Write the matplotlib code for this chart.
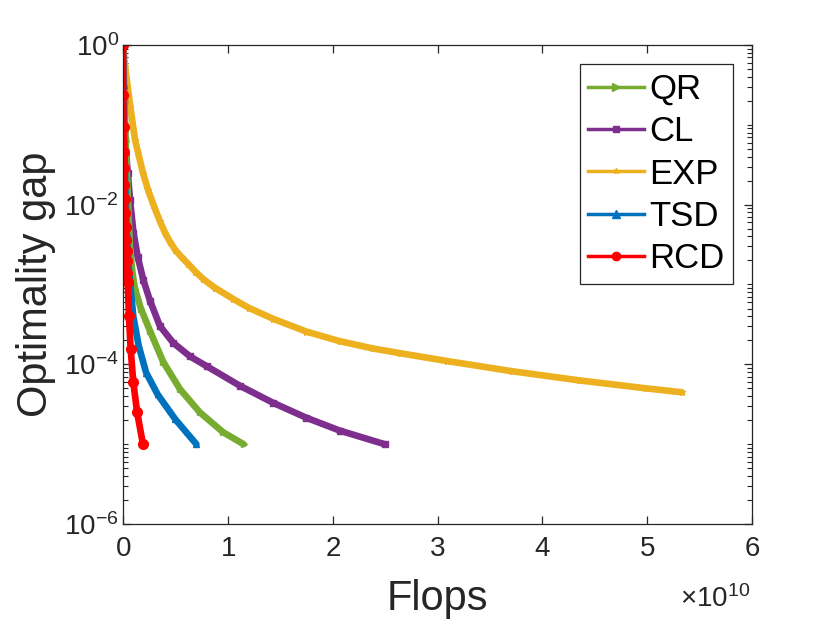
import numpy as np
import matplotlib.pyplot as plt
from matplotlib.lines import Line2D
from matplotlib.ticker import LogLocator, NullFormatter, ScalarFormatter, FixedLocator

plt.rcParams['font.family'] = ['Liberation Sans', 'DejaVu Sans']
plt.rcParams['mathtext.fontset'] = 'custom'
plt.rcParams['mathtext.rm'] = 'Liberation Sans'
plt.rcParams['mathtext.it'] = 'Liberation Sans'

# values (flops in units of 1e10, optimality gap)
exp_x = [0, 0.02, 0.07, 0.115, 0.19, 0.24, 0.29, 0.35, 0.4, 0.45, 0.5, 0.56, 0.62, 0.69, 0.765,
         0.876, 1.05, 1.2, 1.431, 1.75, 2.067, 2.384, 2.64, 3.09, 3.71, 4.35, 4.99, 5.33]
exp_y = [1.0, 0.531, 0.168, 0.0646, 0.0251, 0.0151, 0.01, 6.3e-3, 4.47e-3, 3.39e-3, 2.69e-3,
         2.19e-3, 1.82e-3, 1.45e-3, 1.17e-3, 9.1e-4, 6.6e-4, 5.1e-4, 3.72e-4, 2.57e-4, 1.95e-4,
         1.58e-4, 1.38e-4, 1.10e-4, 8.2e-5, 6.3e-5, 5.0e-5, 4.47e-5]

cl_x = [0, 0.01, 0.02, 0.045, 0.067, 0.1, 0.14, 0.193, 0.257, 0.352, 0.479, 0.638, 0.797,
        1.114, 1.431, 1.75, 2.067, 2.495]
cl_y = [1.0, 0.2, 0.0646, 0.0251, 0.0115, 4.47e-3, 2.24e-3, 1.15e-3, 6.3e-4, 3.02e-4, 1.86e-4,
        1.26e-4, 9.5e-5, 5.4e-5, 3.3e-5, 2.14e-5, 1.48e-5, 1.0e-5]

qr_x = [0, 0.01, 0.025, 0.04, 0.052, 0.067, 0.09, 0.114, 0.17, 0.257, 0.384, 0.543, 0.733, 0.955, 1.15]
qr_y = [1.0, 0.316, 0.063, 0.02, 7.9e-3, 2.75e-3, 1.41e-3, 8.9e-4, 5.0e-4, 2.63e-4, 1.07e-4,
        4.9e-5, 2.5e-5, 1.41e-5, 1.0e-5]

tsd_x = [0, 0.005, 0.012, 0.022, 0.035, 0.05, 0.067, 0.098, 0.15, 0.22, 0.33, 0.5, 0.7]
tsd_y = [1.0, 0.316, 0.063, 0.0158, 4.47e-3, 2.0e-3, 1.06e-3, 4.0e-4, 1.7e-4, 7.9e-5, 4.2e-5,
         2.04e-5, 1.0e-5]

rcd_x = [0, 0.002, 0.005, 0.008, 0.011, 0.014, 0.018, 0.022, 0.026, 0.030, 0.034, 0.037, 0.041,
         0.045, 0.057, 0.073, 0.098, 0.135, 0.19]
rcd_y = [1.0, 0.237, 0.094, 0.046, 0.029, 0.0174, 0.0117, 7.9e-3, 5.3e-3, 3.6e-3, 2.6e-3, 1.95e-3,
         1.41e-3, 1.06e-3, 4.0e-4, 1.55e-4, 6.0e-5, 2.5e-5, 1.0e-5]

names = ['QR', 'CL', 'EXP', 'TSD', 'RCD']
colors = ['#77AC30', '#7E2F8E', '#EDB120', '#0072BD', '#FF0000']
markers = ['>', 's', '*', '^', 'o']
xs_all = [qr_x, cl_x, exp_x, tsd_x, rcd_x]
ys_all = [qr_y, cl_y, exp_y, tsd_y, rcd_y]

fig = plt.figure(figsize=(8.3, 6.23), dpi=100)
ax = fig.add_axes([123/830, 1 - 524/623, 629/830, 479/623])

# slowest first so the red curve ends on top
for i in [2, 1, 0, 3, 4]:
    ms = 7 if markers[i] == 'o' else 5
    ax.plot(np.array(xs_all[i]) * 1e10, ys_all[i], color=colors[i], lw=4.8,
            marker=markers[i], ms=ms, solid_capstyle='round', solid_joinstyle='round')

ax.set_yscale('log')
ax.set_xlim(0, 6e10)
ax.set_ylim(1e-6, 1)
ax.yaxis.set_major_locator(FixedLocator([1e-6, 1e-4, 1e-2, 1]))
ax.yaxis.set_minor_locator(LogLocator(base=10, subs=np.arange(1, 10), numticks=20))
ax.yaxis.set_minor_formatter(NullFormatter())
ax.set_yticklabels(['$10^{-6}$', '$10^{-4}$', '$10^{-2}$', '$10^{0}$'])

fmt = ScalarFormatter(useMathText=True)
fmt.set_powerlimits((0, 0))
ax.xaxis.set_major_formatter(fmt)
ax.set_xticks(np.arange(0, 7) * 1e10)
ax.xaxis.get_offset_text().set_visible(False)

gray = '#262626'
for s in ax.spines.values():
    s.set_color(gray)
    s.set_linewidth(0.9)
ax.tick_params(which='both', direction='in', top=True, right=True, colors=gray, labelsize=20)
ax.tick_params(which='major', length=6, width=0.9)
ax.tick_params(which='minor', length=3.5, width=0.8)
ax.tick_params(axis='x', pad=9)
ax.tick_params(axis='y', pad=3)

fig.text(750/830, 1 - 607/623, r'$\times10^{10}$', fontsize=20, color=gray, ha='right', va='baseline')

ax.set_xlabel('Flops', fontsize=30, color=gray, labelpad=12)
ax.set_ylabel('Optimality gap', fontsize=30, color=gray, labelpad=6)

handles = [Line2D([], [], color=c, lw=2.5, marker=m, ms=(6 if m in 'o>^' else 4))
           for c, m in zip(colors, markers)]
leg = ax.legend(handles, names, loc='upper right', fontsize=25,
                fancybox=False, framealpha=1, edgecolor=gray, handlelength=1.6,
                handletextpad=0.15, labelspacing=0.27, borderpad=0.25, borderaxespad=0.55)
leg.get_frame().set_linewidth(0.9)

fig.savefig('out.png', dpi=100)
